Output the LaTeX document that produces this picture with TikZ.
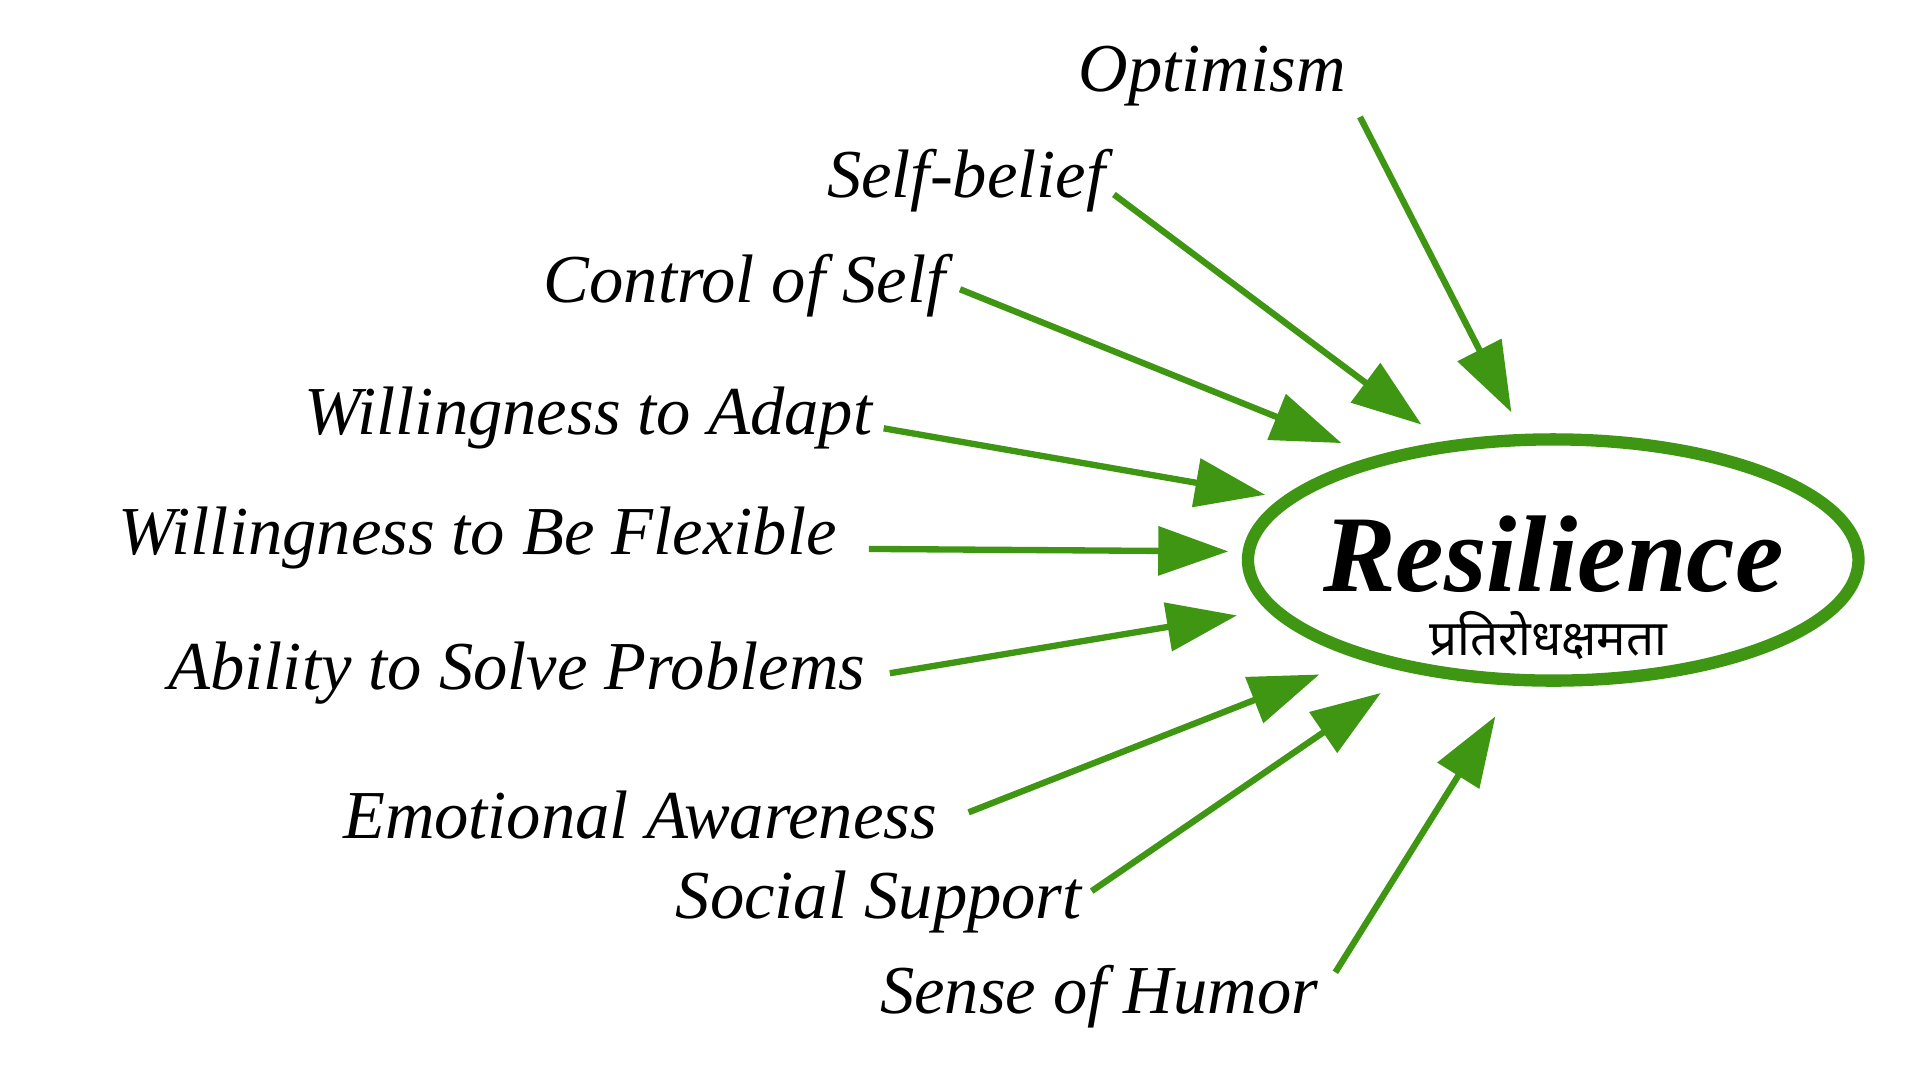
\documentclass[tikz,border=0pt]{standalone}
\usepackage{fontspec}
\setmainfont{Liberation Serif}
\newfontfamily\devfont[Script=Devanagari]{Noto Sans}
\usetikzlibrary{arrows.meta}
\definecolor{leaf}{RGB}{62,150,18}

\begin{document}
\begin{tikzpicture}[
        x=0.0123cm, y=-0.0123cm,
        every node/.style = {font=\itshape\fontsize{19.5}{22}\selectfont},
        feed/.style = {draw=leaf, line width=1.8pt, -{Triangle[length=7mm,width=4.8mm]}}
        ]
        \useasboundingbox (0,0) rectangle (1560,878);
        % labels
        \node (opt) at (985,62) {Optimism};
        \node (slf) at (785,147) {Self-belief};
        \node (ctl) at (605,232) {Control of Self};
        \node (adp) at (478,340) {Willingness to Adapt};
        \node (flx) at (388,437) {Willingness to Be Flexible};
        \node (slv) at (420,547) {Ability to Solve Problems};
        \node (emo) at (520,662) {Emotional Awareness};
        \node (soc) at (714,733) {Social Support};
        \node (hum) at (893,810) {Sense of Humor};

        % centre
        \draw[leaf, line width=3.5pt] (1262,455) ellipse [x radius=248, y radius=98];
        \node[font=\bfseries\itshape\fontsize{31}{33}\selectfont] (res) at (1262,450) {Resilience};
        \node[font=\devfont\fontsize{14}{16}\selectfont] (hin) at (1258,516) {प्रतिरोधक्षमता};

        % arrow ends
        \coordinate (o1) at (1105,95);  \coordinate (o2) at (1228,335);
        \coordinate (s1) at (905,158);  \coordinate (s2) at (1155,345);
        \coordinate (c1) at (780,235);  \coordinate (c2) at (1090,360);
        \coordinate (a1) at (718,348);  \coordinate (a2) at (1028,402);
        \coordinate (f1) at (706,446);  \coordinate (f2) at (998,448);
        \coordinate (p1) at (723,547);  \coordinate (p2) at (1005,500);
        \coordinate (e1) at (787,660);  \coordinate (e2) at (1072,548);
        \coordinate (g1) at (887,724);  \coordinate (g2) at (1122,563);
        \coordinate (h1) at (1085,790); \coordinate (h2) at (1215,582);

        \foreach \a/\b in {o1/o2, s1/s2, c1/c2, a1/a2, f1/f2, p1/p2, e1/e2, g1/g2, h1/h2}
            \draw[feed] (\a) -- (\b);
    \end{tikzpicture}
\end{document}
